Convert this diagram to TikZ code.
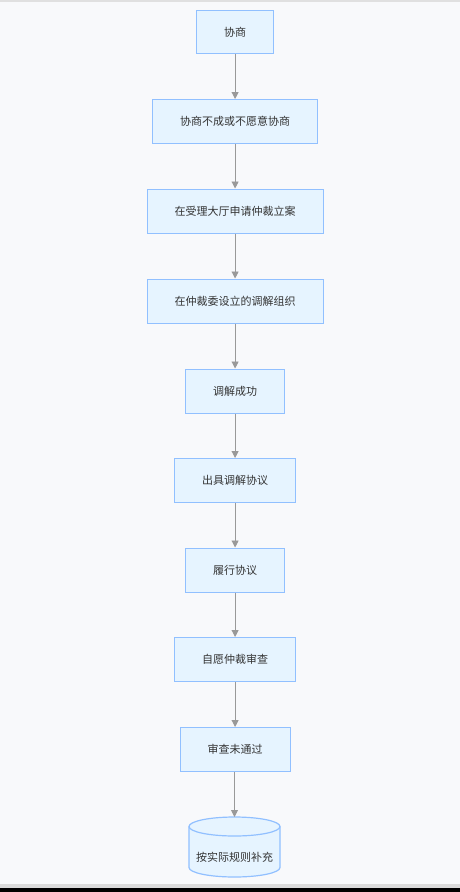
\documentclass[tikz,border=0pt]{standalone}
\usepackage{fontspec}
\newfontfamily\cjk{Noto Sans CJK SC}
\usetikzlibrary{shapes.geometric,arrows.meta}
\definecolor{bg}{HTML}{F8F9FB}
\definecolor{nodefill}{HTML}{E6F4FF}
\definecolor{nodeline}{HTML}{91C0FF}
\definecolor{txt}{HTML}{333333}
\definecolor{arr}{HTML}{999999}
\tikzset{
  px/.style={x=1pt,y=-1pt},
  stepbox/.style={draw=nodeline,line width=1.2pt,fill=nodefill,text=txt,font=\cjk\fontsize{11}{13}\selectfont,inner sep=0pt,anchor=north west},
  flow/.style={draw=arr,line width=0.9pt,-{Triangle[length=7pt,width=7pt]}}
}
\begin{document}
\begin{tikzpicture}[px]
\useasboundingbox (0,0) rectangle (460,892);
\fill[bg] (0,0) rectangle (460,892);
\fill[black!12] (0,0) rectangle (460,1.5);
\fill[black!14] (0,884) rectangle (460,887.5);
\fill[black] (0,888) rectangle (460,892);
\node[stepbox,minimum width=77pt,minimum height=43pt] (n1) at (196,10) {协商};
\node[stepbox,minimum width=165pt,minimum height=44pt] (n2) at (152,99) {协商不成或不愿意协商};
\node[stepbox,minimum width=176pt,minimum height=44pt] (n3) at (146.5,188.5) {在受理大厅申请仲裁立案};
\node[stepbox,minimum width=176pt,minimum height=44pt] (n4) at (146.5,278.5) {在仲裁委设立的调解组织};
\node[stepbox,minimum width=99pt,minimum height=44pt] (n5) at (185,368.5) {调解成功};
\node[stepbox,minimum width=121pt,minimum height=44pt] (n6) at (174,458) {出具调解协议};
\node[stepbox,minimum width=99pt,minimum height=44pt] (n7) at (185,547.5) {履行协议};
\node[stepbox,minimum width=121pt,minimum height=44pt] (n8) at (174,637) {自愿仲裁审查};
\node[stepbox,minimum width=110pt,minimum height=44pt] (n9) at (179.5,727) {审查未通过};
% cylinder
\coordinate (c) at (234.5,817);
\fill[nodefill] (189,826.5) arc[start angle=180,end angle=360,x radius=45.5pt,y radius=9.5pt] -- (280,867.5) arc[start angle=0,end angle=-180,x radius=45.5pt,y radius=9.5pt] -- cycle;
\fill[nodefill] (234.5,826.5) ellipse[x radius=45.5pt,y radius=9.5pt];
\draw[nodeline,line width=1.2pt] (189,826.5) -- (189,867.5) arc[start angle=180,end angle=360,x radius=45.5pt,y radius=9.5pt] -- (280,826.5);
\draw[nodeline,line width=1.2pt] (234.5,826.5) ellipse[x radius=45.5pt,y radius=9.5pt];
\node[text=txt,font=\cjk\fontsize{11}{13}\selectfont,inner sep=0pt] (n10) at (234.5,857) {按实际规则补充};
\draw[flow] (n1) -- (n2);
\draw[flow] (n2) -- (n3);
\draw[flow] (n3) -- (n4);
\draw[flow] (n4) -- (n5);
\draw[flow] (n5) -- (n6);
\draw[flow] (n6) -- (n7);
\draw[flow] (n7) -- (n8);
\draw[flow] (n8) -- (n9);
\draw[flow] (n9.south -| c) -- (c);
\end{tikzpicture}
\end{document}
